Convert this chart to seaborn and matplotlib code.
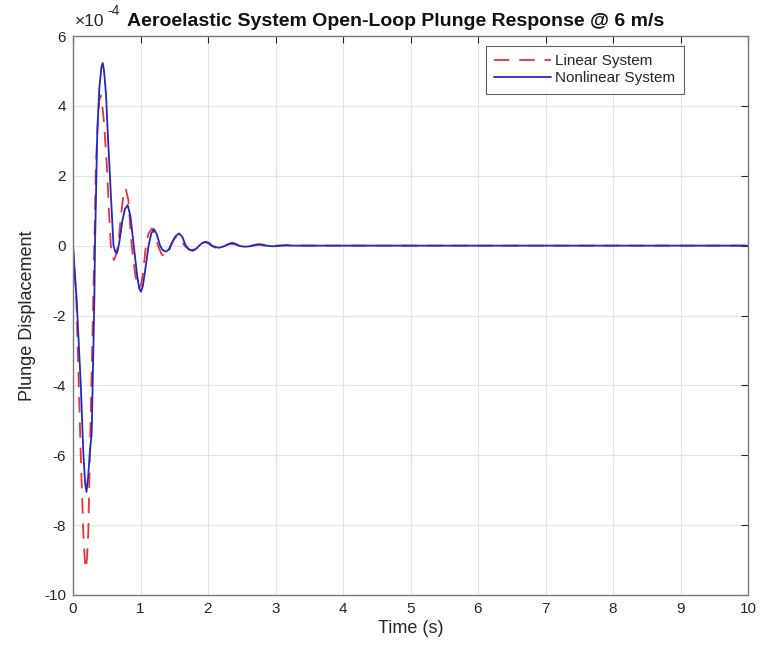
import matplotlib
matplotlib.use("Agg")
import matplotlib.pyplot as plt
import seaborn as sns
import pandas as pd

# Linear system (red dashed), values in units of 1e-4
lin_t = [0.0, 0.05, 0.114, 0.153, 0.175, 0.19, 0.205, 0.227, 0.25, 0.30, 0.316,
         0.34, 0.37, 0.39, 0.41, 0.43, 0.46, 0.50, 0.53, 0.56, 0.585, 0.607, 0.63,
         0.67, 0.70, 0.74, 0.78, 0.82, 0.87, 0.92, 0.95, 0.98, 1.01, 1.04, 1.08,
         1.12, 1.17, 1.21, 1.26, 1.31, 1.36, 1.41, 1.45, 1.50, 1.55, 1.60, 1.65,
         1.71, 1.76, 1.81, 1.85, 1.90, 1.95, 2.00, 2.05, 2.10, 2.15, 2.20, 2.25,
         2.30, 2.35, 2.40, 2.45, 2.55, 2.65, 2.75, 2.85, 3.0, 10.0]
lin_y = [0.0, -1.56, -5.94, -8.23, -9.0, -9.25, -9.0, -8.23, -5.94, -1.56, 0.0,
         2.35, 3.6, 4.15, 4.3, 4.1, 3.5, 2.35, 1.1, 0.0, -0.32, -0.41, -0.3,
         0.0, 0.65, 1.35, 1.64, 1.3, 0.0, -0.8, -1.1, -1.22, -1.1, -0.75, 0.0,
         0.35, 0.49, 0.36, 0.0, -0.24, -0.32, -0.22, 0.0, 0.2, 0.27, 0.19, 0.0,
         -0.1, -0.13, -0.09, 0.0, 0.07, 0.10, 0.07, 0.0, -0.05, -0.07, -0.05, 0.0,
         0.035, 0.05, 0.035, 0.0, -0.03, 0.0, 0.02, 0.0, 0.0, 0.0]

# Nonlinear system (blue solid), values in units of 1e-4
non_t = [0.0, 0.054, 0.114, 0.153, 0.18, 0.20, 0.225, 0.25, 0.277, 0.316, 0.326,
         0.36, 0.39, 0.42, 0.44, 0.46, 0.49, 0.513, 0.56, 0.60, 0.625, 0.647, 0.665,
         0.69, 0.73, 0.77, 0.81, 0.85, 0.90, 0.95, 0.98, 1.007, 1.035, 1.07, 1.12,
         1.16, 1.20, 1.24, 1.29, 1.33, 1.38, 1.42, 1.47, 1.52, 1.57, 1.62, 1.67,
         1.72, 1.77, 1.82, 1.87, 1.92, 1.97, 2.02, 2.06, 2.11, 2.16, 2.21, 2.26,
         2.31, 2.36, 2.41, 2.46, 2.51, 2.56, 2.61, 2.66, 2.71, 2.76, 2.81, 2.86,
         2.96, 3.06, 3.16, 3.26, 3.5, 10.0]
non_y = [0.0, -1.56, -3.93, -5.94, -6.8, -7.05, -6.6, -5.9, -5.37, -1.56, 0.0,
         3.3, 4.5, 5.1, 5.23, 5.0, 4.3, 3.3, 1.5, 0.0, -0.17, -0.22, -0.12,
         0.15, 0.7, 1.05, 1.16, 0.85, 0.0, -0.85, -1.22, -1.32, -1.15, -0.7, 0.0,
         0.35, 0.47, 0.33, 0.0, -0.13, -0.17, -0.11, 0.1, 0.27, 0.35, 0.25, 0.0,
         -0.11, -0.15, -0.1, 0.0, 0.08, 0.11, 0.07, 0.0, -0.04, -0.06, -0.04, 0.0,
         0.05, 0.08, 0.05, 0.0, -0.025, -0.03, -0.02, 0.0, 0.03, 0.04, 0.03, 0.0,
         -0.02, 0.0, 0.015, 0.0, 0.0, 0.0]

x_ticks = list(range(0, 11))
y_ticks = list(range(-10, 7, 2))

sns.set_style("white")
plt.rcParams['font.family'] = ['Liberation Sans', 'DejaVu Sans']
plt.rcParams['axes.unicode_minus'] = False

fig = plt.figure(figsize=(7.62, 6.51), dpi=100)
ax = fig.add_axes([73/762, 1-595/651, (748-73)/762, (595-36)/651])

df_lin = pd.DataFrame({"t": lin_t, "y": lin_y})
df_non = pd.DataFrame({"t": non_t, "y": non_y})
sns.lineplot(data=df_lin, x="t", y="y", ax=ax, color="#e8333a", lw=1.3,
             linestyle=(0, (8.5, 5.5)), label="Linear System", estimator=None, sort=False)
sns.lineplot(data=df_non, x="t", y="y", ax=ax, color="#2626c0", lw=1.3,
             label="Nonlinear System", estimator=None, sort=False)

ax.set_xlim(0, 10)
ax.set_ylim(-10, 6)
ax.set_xticks(x_ticks)
ax.set_yticks(y_ticks)
ax.grid(True, color="#e3e3e3", lw=0.8)
ax.set_axisbelow(True)
for s in ax.spines.values():
    s.set_color("#7a7a7a")
    s.set_linewidth(1.0)
ax.tick_params(direction="in", length=5, width=0.8, color="#262626",
               top=True, right=True, labelsize=11, labelcolor="#262626", pad=5)
ax.set_xlabel("Time (s)", fontsize=13, color="#262626", labelpad=3)
ax.set_ylabel("Plunge Displacement", fontsize=13, color="#262626", labelpad=6)
ax.set_title("Aeroelastic System Open-Loop Plunge Response @ 6 m/s",
             fontsize=14, fontweight="bold", color="#111111", pad=7,
             x=(396-73)/675)
ax.text(0.002, 1.012, "×10", transform=ax.transAxes, fontsize=12.5,
        color="#262626", ha="left", va="bottom")
ax.text((107-73)/675, 1.032, "-4", transform=ax.transAxes, fontsize=10,
        color="#262626", ha="left", va="bottom")

leg = ax.legend(loc="upper right", bbox_to_anchor=((684-73)/675, (595-46)/559),
                fontsize=11, frameon=True, fancybox=False, edgecolor="#3a3a3a",
                handlelength=3.7, borderpad=0.55, labelspacing=0.2,
                handletextpad=0.3, borderaxespad=0)
leg.get_frame().set_linewidth(0.8)

fig.savefig("out.png", dpi=100)
